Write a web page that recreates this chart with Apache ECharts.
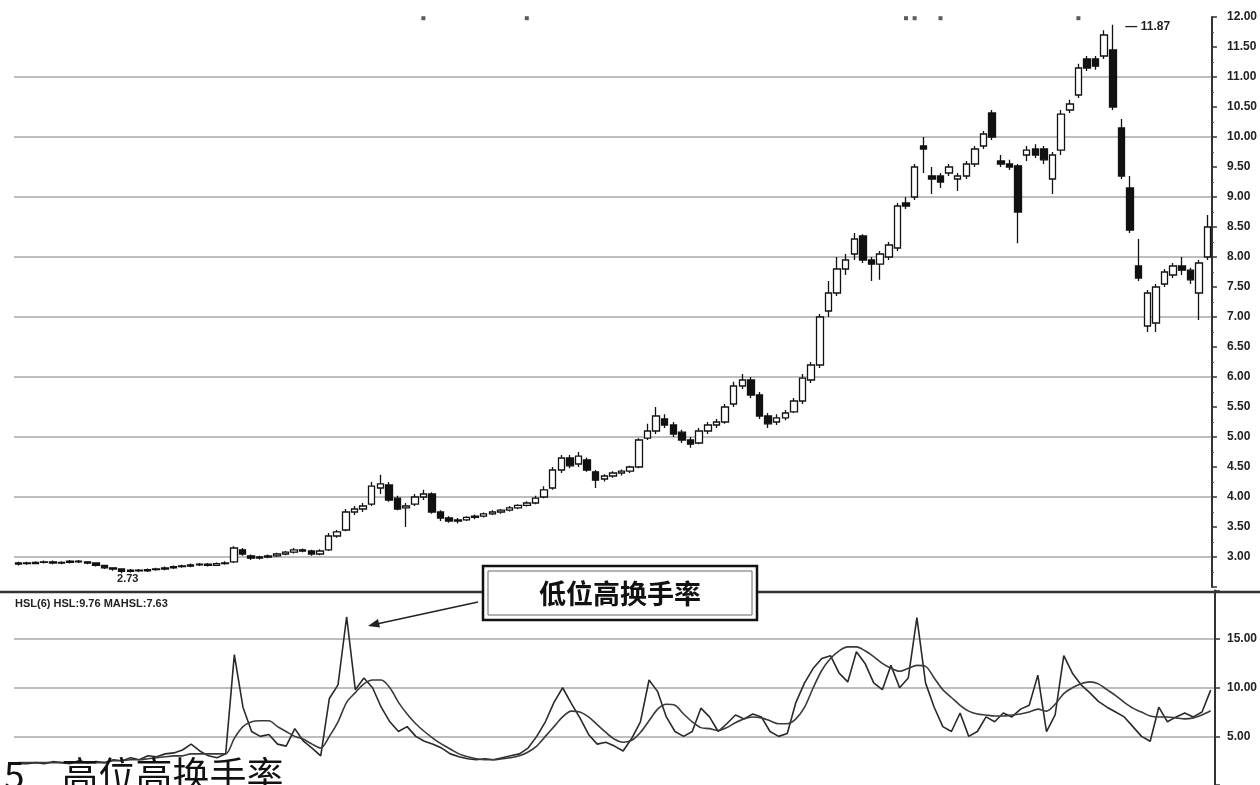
<!DOCTYPE html>
<html><head><meta charset="utf-8">
<script src="https://cdn.jsdelivr.net/npm/echarts@6/dist/echarts.min.js"></script>
<style>html,body{margin:0;padding:0;background:#fff}#c{width:1260px;height:785px}</style>
</head><body><div id="c"></div>
<script>
// [open, close, low, high]
const candles = [
[2.88,2.90,2.86,2.92],[2.90,2.89,2.87,2.92],[2.89,2.91,2.88,2.93],[2.91,2.92,2.89,2.94],[2.92,2.90,2.88,2.94],
[2.90,2.91,2.88,2.93],[2.91,2.93,2.89,2.95],[2.93,2.92,2.90,2.95],[2.92,2.90,2.88,2.93],[2.90,2.86,2.84,2.91],
[2.86,2.82,2.80,2.87],[2.82,2.80,2.77,2.83],[2.80,2.76,2.73,2.81],[2.76,2.78,2.74,2.80],[2.78,2.77,2.75,2.80],
[2.77,2.79,2.75,2.81],[2.79,2.80,2.77,2.82],[2.80,2.82,2.78,2.84],[2.82,2.84,2.80,2.86],[2.84,2.85,2.82,2.87],
[2.85,2.87,2.83,2.89],[2.87,2.88,2.85,2.90],[2.88,2.86,2.84,2.90],[2.86,2.89,2.85,2.91],[2.89,2.90,2.87,2.93],
[2.92,3.15,2.90,3.18],[3.12,3.05,3.02,3.15],[3.02,2.98,2.95,3.04],[2.98,3.00,2.96,3.02],[3.00,3.02,2.98,3.04],
[3.02,3.05,3.00,3.07],[3.05,3.08,3.03,3.10],[3.08,3.12,3.06,3.15],[3.12,3.10,3.08,3.14],[3.10,3.05,3.02,3.12],
[3.05,3.10,3.03,3.13],[3.12,3.35,3.10,3.40],[3.35,3.42,3.32,3.45],[3.45,3.75,3.43,3.80],[3.75,3.80,3.70,3.85],
[3.80,3.85,3.75,3.90],[3.88,4.18,3.85,4.25],[4.15,4.22,4.05,4.37],[4.20,3.95,3.92,4.25],[3.98,3.80,3.78,4.02],
[3.82,3.85,3.50,3.90],[3.88,4.00,3.85,4.05],[4.00,4.05,3.95,4.12],[4.05,3.75,3.72,4.08],[3.75,3.65,3.60,3.78],
[3.65,3.60,3.57,3.68],[3.60,3.62,3.56,3.65],[3.62,3.66,3.60,3.68],[3.66,3.68,3.63,3.71],[3.68,3.72,3.66,3.74],
[3.72,3.75,3.70,3.78],[3.75,3.78,3.72,3.80],[3.78,3.82,3.76,3.85],[3.82,3.86,3.80,3.88],[3.86,3.90,3.84,3.93],
[3.90,3.98,3.88,4.02],[4.00,4.12,3.98,4.18],[4.15,4.45,4.12,4.50],[4.45,4.65,4.40,4.70],[4.65,4.52,4.48,4.70],
[4.55,4.68,4.50,4.75],[4.62,4.45,4.42,4.66],[4.42,4.28,4.15,4.45],[4.30,4.35,4.26,4.38],[4.35,4.40,4.32,4.43],
[4.40,4.43,4.36,4.46],[4.43,4.50,4.40,4.52],[4.50,4.95,4.48,4.98],[4.98,5.10,4.95,5.22],[5.10,5.35,5.05,5.50],
[5.30,5.20,5.15,5.38],[5.20,5.05,5.00,5.25],[5.08,4.95,4.90,5.12],[4.95,4.88,4.82,5.00],[4.90,5.10,4.88,5.15],
[5.10,5.20,5.05,5.25],[5.20,5.25,5.15,5.30],[5.25,5.50,5.22,5.55],[5.55,5.85,5.50,5.92],[5.85,5.95,5.80,6.05],
[5.95,5.70,5.65,6.00],[5.70,5.35,5.30,5.75],[5.35,5.22,5.15,5.40],[5.25,5.32,5.20,5.38],[5.32,5.40,5.28,5.45],
[5.42,5.60,5.40,5.65],[5.60,5.98,5.55,6.05],[5.95,6.20,5.90,6.25],[6.20,7.00,6.15,7.05],[7.10,7.40,7.00,7.60],
[7.40,7.80,7.35,8.00],[7.80,7.95,7.70,8.05],[8.05,8.30,7.95,8.40],[8.35,7.95,7.90,8.38],[7.95,7.88,7.60,8.00],
[7.88,8.05,7.62,8.10],[8.00,8.20,7.95,8.25],[8.15,8.85,8.10,8.90],[8.90,8.85,8.80,9.00],[9.00,9.50,8.95,9.55],
[9.85,9.80,9.40,10.00],[9.35,9.30,9.05,9.50],[9.35,9.25,9.15,9.40],[9.40,9.50,9.35,9.55],[9.30,9.35,9.10,9.40],
[9.35,9.55,9.30,9.60],[9.55,9.80,9.50,9.85],[9.85,10.05,9.80,10.10],[10.40,10.00,9.95,10.45],[9.60,9.55,9.50,9.70],
[9.55,9.50,9.45,9.62],[9.52,8.75,8.23,9.55],[9.70,9.78,9.60,9.85],[9.80,9.70,9.65,9.88],[9.80,9.62,9.55,9.85],
[9.30,9.70,9.05,9.75],[9.78,10.38,9.70,10.45],[10.45,10.55,10.40,10.62],[10.70,11.15,10.65,11.22],[11.30,11.15,11.10,11.35],
[11.30,11.18,11.12,11.35],[11.35,11.70,11.30,11.78],[11.45,10.50,10.45,11.87],[10.15,9.35,9.30,10.30],[9.15,8.45,8.40,9.35],
[7.85,7.65,7.60,8.30],[6.85,7.40,6.75,7.45],[6.90,7.50,6.75,7.55],[7.55,7.75,7.50,7.80],[7.70,7.85,7.65,7.90],
[7.85,7.78,7.70,8.00],[7.78,7.62,7.55,7.82],[7.40,7.90,6.95,7.95],[8.00,8.50,7.95,8.70]
];
const hsl = [
2.2,2.2,2.3,2.2,2.4,2.3,2.2,2.5,2.3,2.4,
2.3,2.6,2.5,2.8,2.6,3.0,2.9,3.2,3.3,3.6,
4.2,3.5,3.0,2.8,3.2,13.4,8.0,5.5,5.0,5.2,
4.2,4.0,5.8,4.5,3.8,3.0,8.9,10.3,17.3,9.8,
11.0,10.0,8.0,6.5,5.5,6.0,5.0,4.5,4.2,3.8,
3.2,2.9,2.7,2.6,2.7,2.6,2.8,3.0,3.2,3.8,
5.0,6.5,8.5,10.0,8.4,6.9,5.2,4.2,4.4,4.0,
3.5,4.8,6.5,10.8,9.6,7.0,5.5,5.0,5.5,7.9,
7.0,5.5,6.3,7.2,6.8,7.3,7.0,5.5,5.0,5.3,
8.5,10.5,12.0,13.0,13.3,11.5,10.6,13.7,12.5,10.5,
9.8,12.3,10.0,11.0,17.2,10.5,8.0,6.0,5.5,7.4,
5.0,5.5,7.0,6.5,7.4,7.0,7.8,8.2,11.3,5.5,
7.2,13.3,11.5,10.3,9.5,8.6,8.0,7.5,7.0,6.0,
5.0,4.5,8.0,6.5,7.0,7.4,7.0,7.5,9.76
];
const mahsl = [
2.3,2.3,2.3,2.3,2.3,2.3,2.3,2.3,2.3,2.3,
2.3,2.5,2.5,2.6,2.6,2.7,2.8,2.9,3.0,3.0,
3.2,3.2,3.2,3.2,3.2,4.8,6.0,6.5,6.6,6.6,
6.0,5.5,5.0,4.7,4.2,3.8,5.0,6.5,8.5,9.5,
10.4,10.8,10.8,10.0,8.5,7.3,6.3,5.5,4.8,4.2,
3.7,3.2,2.9,2.7,2.6,2.6,2.7,2.8,3.0,3.4,
4.0,5.0,6.0,7.0,7.6,7.5,7.0,6.2,5.4,4.7,
4.4,4.6,5.4,6.6,7.8,8.3,8.2,7.3,6.5,5.9,
5.8,5.6,5.9,6.4,6.8,7.0,6.9,6.6,6.3,6.3,
6.8,8.0,10.0,11.8,13.0,13.8,14.2,14.2,13.8,13.2,
12.5,12.0,11.7,12.0,12.3,12.2,11.0,9.8,9.0,8.2,
7.6,7.3,7.2,7.1,7.1,7.2,7.3,7.5,7.8,7.6,
8.3,9.4,10.0,10.4,10.6,10.4,9.8,9.2,8.5,7.9,
7.5,7.1,7.0,7.0,6.9,6.8,6.9,7.2,7.63
];
const topMarkerDays = [47, 59, 103, 104, 107, 123];
const days = candles.map((_, i) => 'D' + (i + 1));

const lowIdx = candles.reduce((b, c, i) => c[2] < candles[b][2] ? i : b, 0);
const highIdx = candles.reduce((b, c, i) => c[3] > candles[b][3] ? i : b, 0);

const chart = echarts.init(document.getElementById('c'), null, {renderer: 'canvas'});
const labelFont = {color: '#222', fontSize: 12, fontWeight: 'bold', fontFamily: 'Liberation Sans, Arial'};

chart.setOption({
  animation: false,
  backgroundColor: '#fff',
  grid: [
    {left: 14, right: 45, top: 17, height: 570},
    {left: 14, right: 45, top: 590.5, height: 206}
  ],
  xAxis: [
    {type: 'category', data: days, gridIndex: 0, boundaryGap: true, show: false},
    {type: 'category', data: days, gridIndex: 1, boundaryGap: true, show: false}
  ],
  yAxis: [
    {type: 'value', gridIndex: 0, position: 'right', min: 2.5, max: 12, interval: 0.5,
     axisLine: {show: true, lineStyle: {color: '#333', width: 2}},
     axisTick: {show: true, inside: false, length: 5, lineStyle: {color: '#333', width: 1.5}},
     minorTick: {show: true, splitNumber: 2, length: 2, lineStyle: {color: '#555'}},
     axisLabel: Object.assign({margin: 15, formatter: v => v < 2.9 ? '' : v.toFixed(2)}, labelFont),
     splitLine: {show: true, showMaxLine: false, showMinLine: false, lineStyle: {color: ['#a8a8a8', 'transparent'], width: 1.6}}
    },
    {type: 'value', gridIndex: 1, position: 'right', min: 0, max: 20, interval: 5,
     axisLine: {show: true, lineStyle: {color: '#333', width: 2}},
     axisTick: {show: true, length: 5, lineStyle: {color: '#333', width: 1.5}},
     axisLabel: Object.assign({margin: 12, formatter: v => (v === 0 || v === 20) ? '' : v.toFixed(2)}, labelFont),
     splitLine: {show: true, showMaxLine: false, showMinLine: false, lineStyle: {color: '#a8a8a8', width: 1.6}}
    }
  ],
  series: [
    {type: 'candlestick', xAxisIndex: 0, yAxisIndex: 0, data: candles, barWidth: 7,
     itemStyle: {color: '#fff', color0: '#111', borderColor: '#111', borderColor0: '#111', borderWidth: 1.3},
     markPoint: {
       symbol: 'circle', symbolSize: 1, itemStyle: {color: 'rgba(0,0,0,0)'}, silent: true,
       data: [
         {name: 'low', coord: [days[lowIdx], candles[lowIdx][2]], value: candles[lowIdx][2],
          label: {show: true, position: 'bottom', distance: 0, offset: [6, 0], formatter: candles[lowIdx][2].toFixed(2), color: '#222', fontSize: 11, fontWeight: 'bold'}},
         {name: 'high', coord: [days[highIdx], candles[highIdx][3]], value: candles[highIdx][3],
          label: {show: true, position: 'right', distance: 12, offset: [0, 2], formatter: '— ' + candles[highIdx][3].toFixed(2), color: '#222', fontSize: 12, fontWeight: 'bold'}}
       ]
     }
    },
    {type: 'scatter', xAxisIndex: 0, yAxisIndex: 0, symbol: 'rect', symbolSize: [4, 4],
     data: topMarkerDays.map(i => [days[i], 11.98]), itemStyle: {color: '#333'}, silent: true},
    {type: 'line', xAxisIndex: 1, yAxisIndex: 1, data: hsl, symbol: 'none',
     lineStyle: {color: '#2a2a2a', width: 1.6}},
    {type: 'line', xAxisIndex: 1, yAxisIndex: 1, data: mahsl, symbol: 'none', smooth: 0.3,
     lineStyle: {color: '#3a3a3a', width: 1.6}}
  ],
  graphic: [
    {type: 'line', shape: {x1: 0, y1: 592, x2: 1260, y2: 592}, style: {stroke: '#333', lineWidth: 2.5}, z: 50},
    {type: 'text', left: 15, top: 598, z: 60,
     style: {text: 'HSL(6) HSL:' + hsl[hsl.length - 1].toFixed(2) + ' MAHSL:' + mahsl[mahsl.length - 1].toFixed(2),
             fill: '#222', font: 'bold 11px Liberation Sans, Arial'}},
    {type: 'line', shape: {x1: 478, y1: 602, x2: 372, y2: 625}, style: {stroke: '#222', lineWidth: 1.5}, z: 60},
    {type: 'polygon', shape: {points: [[368, 626], [380, 627.5], [378, 619]]}, style: {fill: '#222'}, z: 60},
    {type: 'rect', shape: {x: 483, y: 566, width: 274, height: 54}, style: {fill: '#fff', stroke: '#111', lineWidth: 2.5}, z: 60},
    {type: 'rect', shape: {x: 488, y: 571, width: 264, height: 44}, style: {fill: 'none', stroke: '#666', lineWidth: 1}, z: 61},
    {type: 'text', x: 620, y: 594, z: 62,
     style: {text: '低位高换手率', fill: '#111', font: 'bold 27px "Noto Sans CJK SC"', textAlign: 'center', textVerticalAlign: 'middle'}},
    {type: 'text', left: 4, top: 756, z: 70,
     style: {text: '5　高位高换手率', fill: '#111', font: '37px "Noto Sans CJK SC"'}}
  ]
});
</script>
</body></html>
